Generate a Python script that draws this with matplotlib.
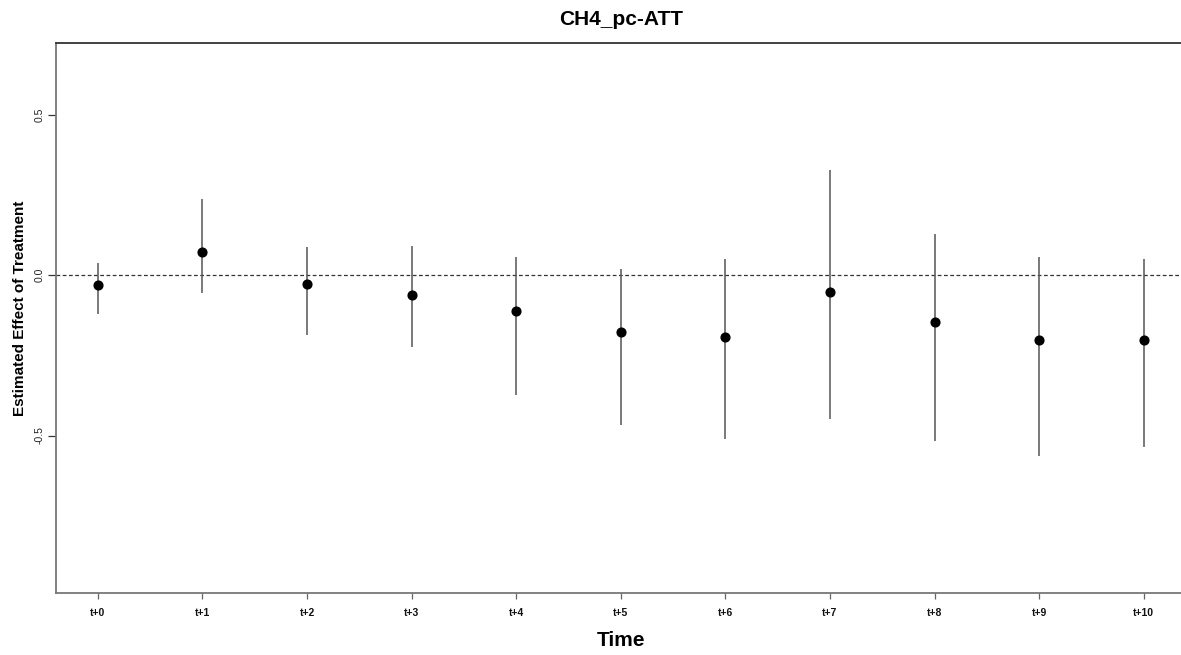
import matplotlib
matplotlib.use("Agg")
import matplotlib.pyplot as plt
import numpy as np

# estimates
periods = ["t+0", "t+1", "t+2", "t+3", "t+4", "t+5", "t+6", "t+7", "t+8", "t+9", "t+10"]
att = [-0.031, 0.071, -0.029, -0.062, -0.113, -0.177, -0.194, -0.053, -0.146, -0.201, -0.201]
ci_upper = [0.038, 0.238, 0.088, 0.090, 0.057, 0.018, 0.052, 0.327, 0.130, 0.057, 0.052]
ci_lower = [-0.122, -0.057, -0.187, -0.224, -0.372, -0.468, -0.512, -0.447, -0.518, -0.564, -0.536]
y_ticks = [-0.5, 0.0, 0.5]

plt.rcParams['font.family'] = ['Liberation Sans', 'DejaVu Sans']

W, H = 1181, 655
fig = plt.figure(figsize=(W / 100, H / 100), dpi=100)

# axes box in pixels (left, top, right, bottom)
left, top, right, bottom = 56, 43, 1185.5, 592.7
ax = fig.add_axes([left / W, 1 - bottom / H, (right - left) / W, (bottom - top) / H])

x = np.arange(len(periods))

ax.axhline(0, color='#333333', lw=0.9, ls=(0, (3, 2)), zorder=1)
ax.vlines(x, ci_lower, ci_upper, color='#555555', lw=1.1, zorder=2)
ax.plot(x, att, 'o', color='black', markersize=6.3, zorder=3)

ax.set_xlim(-0.4, 10.4)
ax.set_ylim(-0.99, 0.724)

ax.set_xticks(x)
ax.set_xticklabels(periods, fontsize=7.5, fontweight='bold', color='#111111')
ax.set_yticks(y_ticks)
ax.set_yticklabels([f"{v:.1f}" for v in y_ticks], fontsize=7.5, rotation=90,
                   va='center', color='#222222')

ax.tick_params(axis='x', length=4, width=0.9, color='#666666', pad=7)
ax.tick_params(axis='y', length=6, width=0.9, color='#333333', pad=2.5)

for side in ['left', 'bottom']:
    ax.spines[side].set_color('#777777')
    ax.spines[side].set_linewidth(1.3)
ax.spines['top'].set_color('#333333')
ax.spines['top'].set_linewidth(1.3)
ax.spines['right'].set_visible(False)

ax.set_title("CH4_pc-ATT", fontsize=15, fontweight='bold', pad=13)
ax.set_xlabel("Time", fontsize=15, fontweight='bold', va='center')
ax.xaxis.set_label_coords(0.5, -(640.7 - bottom) / (bottom - top))
ax.set_ylabel("Estimated Effect of Treatment", fontsize=11, fontweight='bold', va='center')
ax.yaxis.set_label_coords(-(left - 19.5) / (right - left), 0.517)

fig.savefig("out.png", dpi=100)
